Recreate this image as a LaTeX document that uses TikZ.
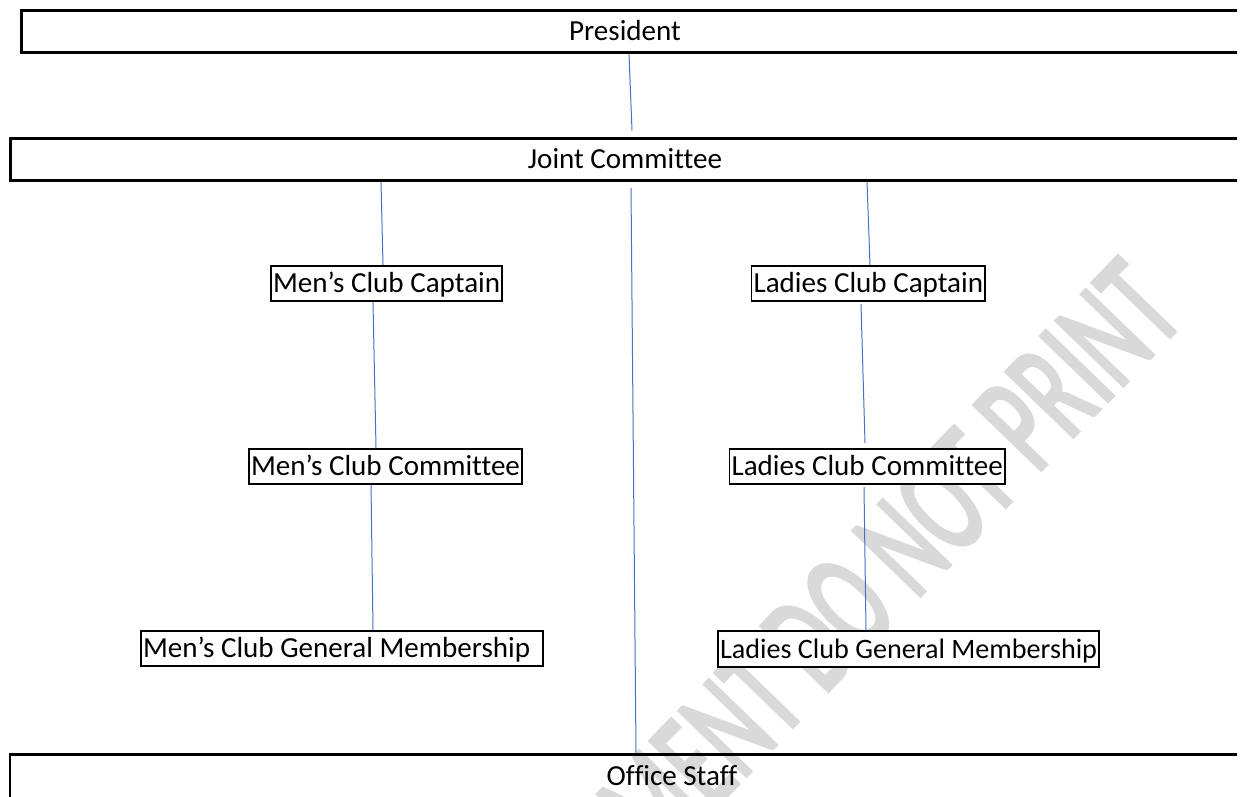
\documentclass[tikz,border=0pt]{standalone}
\usepackage{fontspec}
\setmainfont{Carlito}[Ligatures=NoCommon]
\definecolor{ocLink}{HTML}{4472C4}
\definecolor{ocMark}{HTML}{D9D9D9}
\usetikzlibrary{calc}

\begin{document}
\begin{tikzpicture}[x=0.75pt,y=-0.75pt,
                    band/.style={anchor=north west,minimum width=1000pt,minimum height=31pt},
                    rim/.style={draw=black,line width=2.2pt},
                    title/.style={font=\fontsize{21.8}{26}\selectfont,
                                  text height=19.5pt,text depth=6pt,inner sep=0pt},
                    post/.style={draw=black,fill=white,line width=1.4pt,anchor=west,
                                 inner xsep=1.6pt,inner ysep=0.6pt,
                                 text height=19.5pt,text depth=6pt,
                                 font=\fontsize{21.8}{26}\selectfont},
                    link/.style={draw=ocLink,line width=0.75pt}]
  \useasboundingbox (0,0) rectangle (1242,796);
  \coordinate (edge) at (1237,0);

  \node[text=ocMark,font=\bfseries\fontsize{75}{80}\selectfont,anchor=base east,
        rotate=46,xscale=0.86,yscale=1.5] (stamp) at (1192,318) {DOCUMENT DO NOT PRINT};

  \node[band] (pres) at (21.5,10.5) {};
  \node[title] (presT) at (625,31) {President};
  \node[band] (joint) at (10.5,138.5) {};
  \node[title] (jointT) at (625,159) {Joint Committee};
  \node[band,minimum height=34pt] (office) at (10,754.5) {};
  \node[title] (officeT) at (672,776) {Office Staff};
  \foreach \b in {pres,joint,office}
    \draw[rim] (\b.north west -| edge) -- (\b.north west) -- (\b.south west) -- (\b.south west -| edge);

  \node[post] (mcap) at (270,283.5) {Men’s Club Captain};
  \node[post] (lcap) at (750.5,283.5) {Ladies Club Captain};
  \node[post] (mcom) at (248,466.5) {Men’s Club Committee};
  \node[post] (lcom) at (728.5,466.5) {Ladies Club Committee};
  \node[post] (mgen) at (140,648.5) {Men’s Club General Membership\hspace*{8pt}};
  \node[post,font=\fontsize{21.1}{26}\selectfont] (lgen) at (717,649) {Ladies Club General Membership};

  \draw[link] ($(presT |- pres.south)+(4,2)$) -- ($(jointT |- joint.north)+(7,-8)$);
  \draw[link] ($(mcap.north west |- joint.south)+(111,1.5)$) -- ([shift={(113,0)}]mcap.north west);
  \draw[link] ($(lcap.north west |- joint.south)+(116.5,1.5)$) -- ([shift={(119.5,0)}]lcap.north west);
  \draw[link] ($(jointT |- joint.south)+(6,7.5)$) -- ($(jointT |- office.north)+(11,-2)$);
  \draw[link] ([shift={(103,0)}]mcap.south west) -- ([shift={(128,0)}]mcom.north west);
  \draw[link] ([shift={(123,0)}]mcom.south west) -- ([shift={(233,0)}]mgen.north west);
  \draw[link] ([shift={(110.5,2)}]lcap.south west) -- ([shift={(136.5,-5)}]lcom.north west);
  \draw[link] ([shift={(135.5,2)}]lcom.south west) -- ([shift={(149,0)}]lgen.north west);
\end{tikzpicture}
\end{document}
